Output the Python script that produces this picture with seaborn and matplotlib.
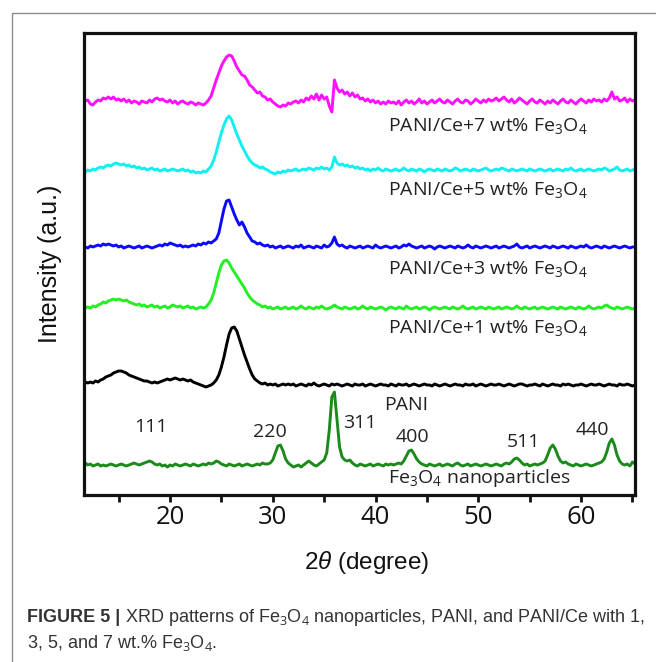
import numpy as np
import pandas as pd
import matplotlib
matplotlib.use("Agg")
import matplotlib.pyplot as plt
from matplotlib.ticker import MultipleLocator
from matplotlib.lines import Line2D
import seaborn as sns

# ---------------- data ----------------
THETA_START = 11.75   # first sample, degrees 2theta
THETA_STEP = 0.25     # sampling step, degrees

# intensities above each pattern's own baseline (a.u.)
fe3o4 = [
    2, 0, 1, -1, 0, 1, -1, 0, -1, 0, 1, 0, -1, 0, 1, 0, -1, 0, 1, 2,
    1, 0, 1, 2, 3, 4, 3, 1, 0, 1, -1, 0, -2, 0, -1, 1, 0, -1, 0, 1,
    0, -1, 1, 0, -1, 0, 1, 0, 2, 1, 2, 4, 3, 1, 0, -1, 1, 0, -1, 0,
    1, -1, 0, 1, 0, -1, 0, 1, 0, 2, 1, 1, 2, 5, 12, 19, 20, 14, 6, 2,
    0, -2, -1, 0, -2, 0, 2, 4, 2, 0, -1, 1, 3, 5, 12, 35, 68, 73, 45, 18,
    8, 5, 4, 5, 2, 0, -1, 1, 0, -1, 0, 1, -1, 0, 1, 0, -1, 1, 0, 1,
    0, 1, 2, 1, 4, 9, 14, 15, 11, 6, 3, 1, 0, -1, 1, 0, -1, 0, 1, -1,
    0, 1, 0, -1, 1, 2, 0, -1, 0, 1, -1, 0, 1, 0, -1, 0, 1, 0, -1, 0,
    1, 0, -1, 1, 2, 1, 3, 6, 7, 5, 2, 0, 1, -1, 0, 1, 0, 1, 2, 4,
    10, 17, 20, 16, 9, 4, 2, 3, 1, 0, -1, 1, 0, -1, 0, 1, 0, -1, 0, 1,
    2, 3, 6, 13, 22, 26, 20, 10, 4, 1, 0, 1, -1, 3, 1,
]
pani = [
    3, 2, 3, 2, 4, 3, 5, 6, 8, 9, 10, 12, 13, 14, 14, 13, 12, 10, 9, 8,
    7, 6, 5, 4, 4, 3, 2, 3, 2, 3, 4, 5, 6, 5, 6, 7, 6, 5, 6, 5,
    4, 5, 3, 2, 1, 0, -1, -2, -1, 0, 2, 5, 10, 18, 28, 40, 51, 57, 58, 54,
    46, 38, 30, 23, 16, 10, 6, 4, 2, 1, 2, 0, 1, 0, 1, -1, 0, 1, 0, 1,
    0, 1, -1, 0, 1, 0, -1, 1, 0, 2, 0, -1, 0, 1, 0, -1, 1, 0, 1, 0,
    -1, 0, 1, 0, -1, 1, 0, 0, 1, -1, 0, 1, 0, -1, 0, 1, 0, 0, -1, 1,
    0, -1, 1, 0, 0, 1, -1, 0, 1, 0, -1, 0, 1, 0, 0, -1, 1, 0, -1, 0,
    1, 0, -1, 0, 1, 0, 0, -1, 1, 0, 0, 1, -1, 0, 1, 0, -1, 0, 1, 0,
    0, 1, 0, -1, 0, 1, 0, -1, 0, 1, 1, 0, -1, 0, 0, 1, 0, -1, 1, 0,
    -1, 0, 1, 0, 0, -1, 1, 0, 1, 0, -1, 0, 0, 1, 0, -1, 0, 1, 0, 0,
    1, 0, -1, 0, 1, 0, 0, -1, 1, 0, 0, 1, 0, -1, 0,
]
ce1 = [
    0, 1, 0, 2, 1, 3, 4, 6, 5, 7, 8, 9, 8, 9, 8, 7, 8, 6, 5, 4,
    3, 4, 2, 3, 1, 2, 3, 1, 2, 0, 1, 2, 0, 1, 3, 2, 1, 2, 0, 1,
    2, 0, 1, -1, 0, 1, 0, 1, 4, 8, 15, 25, 35, 43, 47, 48, 45, 40, 36, 32,
    28, 24, 20, 15, 11, 8, 6, 4, 3, 1, 2, 0, 1, -1, 0, 1, -1, 0, 1, -1,
    0, 1, -1, 0, 2, 0, -1, 1, 0, -1, 1, 0, 2, 0, -1, 0, 1, 3, 1, 0,
    -1, 1, 0, -1, 0, 1, -1, 0, 2, 0, -1, 1, 0, -1, 0, 1, 0, -2, 0, 1,
    0, -1, 1, 0, -1, 2, 0, -1, 0, 1, -1, 0, 1, 0, -2, 0, 1, 0, -1, 0,
    1, 0, -1, 1, 0, -1, 0, 2, 0, -1, 0, 1, -1, 0, 1, 0, -1, 1, 0, -1,
    0, 1, -1, 0, 1, 0, -1, 0, 2, 0, -1, 1, 0, -1, 0, 1, -1, 0, 1, 0,
    -1, 0, 1, 0, -1, 1, 0, -1, 0, 1, 0, -1, 1, 0, -1, 0, 2, 0, -1, 0,
    1, 0, 2, 3, 1, 0, -1, 1, 0, -1, 0, 1, 0, -1, 0,
]
ce3 = [
    0, -1, 1, 0, 1, 2, 1, 3, 2, 3, 2, 1, 2, 0, 1, -1, 0, 1, 0, -1,
    0, 1, -1, 0, 1, 0, -1, 0, 1, 2, 1, 3, 2, 4, 3, 2, 1, 2, 0, 1,
    0, 1, 2, 1, 3, 2, 4, 3, 5, 4, 6, 8, 14, 26, 38, 46, 47, 40, 33, 27,
    22, 25, 20, 14, 10, 6, 5, 3, 4, 2, 1, 2, 0, 1, -1, 0, 1, -1, 0, 1,
    0, -1, 1, 0, 2, -1, 0, 1, 0, -1, 1, 0, -1, 2, 0, 1, 4, 10, 3, 1,
    2, 0, -1, 1, 0, -1, 0, 1, -1, 0, 1, 0, -1, 2, 0, -1, 0, 1, 0, -1,
    0, 1, -1, 0, 2, 1, 3, 1, 0, -1, 0, 1, -1, 0, 1, 0, -2, 0, 1, 0,
    -1, 0, 1, 0, -1, 1, 0, -1, 0, 2, 0, -1, 1, 0, -1, 0, 1, 0, -1, 0,
    1, -1, 0, 1, 0, -1, 0, 1, 3, 0, -1, 0, 1, -1, 0, 1, 0, -1, 0, 1,
    0, -1, 1, 0, -1, 0, 1, 0, -1, 1, 0, -1, 0, 1, 0, 2, 0, -1, 0, 1,
    0, -1, 1, 0, -1, 0, 1, 0, -1, 0, 1, 0, -1, 0, 0,
]
ce5 = [
    -2, 0, -1, 1, 0, 2, 3, 2, 4, 5, 4, 6, 7, 6, 5, 6, 4, 5, 3, 4,
    2, 3, 1, 2, 0, 1, 2, 0, 1, -1, 0, 1, -1, 0, 1, 0, -1, 0, 1, -1,
    0, -2, -1, -3, -2, -3, -1, -2, 1, 4, 10, 18, 28, 37, 45, 51, 54, 50, 43, 36,
    30, 24, 19, 14, 10, 7, 5, 4, 2, 3, 1, 0, -2, -3, -4, -2, -3, -1, -2, 0,
    -1, 0, 1, -1, 0, 1, 0, 2, 1, 0, 2, 1, 3, 1, 2, 0, 3, 13, 7, 5,
    6, 4, 5, 3, 4, 2, 3, 1, 2, 0, 1, -1, 1, 0, 2, 0, -1, 1, 0, -1,
    0, 1, -1, 0, 2, 0, -1, 1, 0, -1, 1, 0, -2, 0, 1, 0, -1, 1, 0, -1,
    1, 0, -1, 0, 2, 1, -1, 0, 1, 0, -1, 1, 0, -1, 0, 1, 2, 0, -1, 0,
    1, 0, 2, 1, 0, -1, 1, 0, -1, 0, 1, 0, -1, 1, 0, -1, 0, 1, 0, -1,
    0, 1, -1, 0, 1, 0, -1, 1, 0, 2, 0, -1, 0, 1, -1, 0, 1, 0, -1, 0,
    1, 0, 2, 1, -1, 0, 1, 3, 0, -1, 0, 1, -1, 0, 1,
]
ce7 = [
    1, 2, -2, -3, 0, 2, 1, 4, 3, 5, 3, 5, 2, 3, 1, 3, 0, 2, -1, 1,
    0, -2, 1, 0, -1, 2, 0, 3, 4, 2, 3, 1, 0, 2, -1, 1, -2, 0, 1, -1,
    -2, 0, -1, -3, -1, -2, -3, -1, 2, 6, 14, 22, 29, 36, 41, 45, 47, 46, 41, 35,
    31, 27, 26, 22, 17, 15, 12, 9, 10, 6, 5, 2, 3, 0, -2, -4, -5, -3, -4, -1,
    -2, 0, 1, -1, 2, 0, 4, 2, 6, 3, 8, 2, 7, 3, 5, -4, -10, 22, 14, 10,
    12, 8, 10, 6, 9, 5, 7, 3, 4, 1, 3, 0, 2, -1, 1, -2, 0, -2, 1, -1,
    0, -2, 1, -3, 0, 2, -1, 1, -2, 0, 3, -1, 1, -2, 0, 2, -1, 1, 3, 0,
    -1, 2, 0, -2, 1, 3, 0, -1, 2, 1, -2, 0, 3, 1, -1, 2, 0, 3, 1, 2,
    4, 1, 3, 5, 2, 0, 3, -1, 1, 4, 2, 0, -2, 1, 3, 0, -1, 2, 0, -2,
    1, -1, 2, 0, -2, 1, 3, 0, -1, 2, 0, -2, 1, 3, 1, -1, 2, 0, 3, 1,
    2, 0, 3, 1, 4, 10, 3, 5, 1, 2, 4, 0, 3, 1, 2,
]

sample_names = ["Fe3O4 nanoparticles", "PANI", "PANI/Ce+1 wt% Fe3O4",
                "PANI/Ce+3 wt% Fe3O4", "PANI/Ce+5 wt% Fe3O4", "PANI/Ce+7 wt% Fe3O4"]
sample_values = [fe3o4, pani, ce1, ce3, ce5, ce7]
sample_labels = ["Fe$_3$O$_4$ nanoparticles", "PANI", "PANI/Ce+1 wt% Fe$_3$O$_4$",
                 "PANI/Ce+3 wt% Fe$_3$O$_4$", "PANI/Ce+5 wt% Fe$_3$O$_4$",
                 "PANI/Ce+7 wt% Fe$_3$O$_4$"]
peak_labels = ["111", "220", "311", "400", "511", "440"]

# ---------------- layout / style ----------------
offsets = [30, 110, 187, 248, 325, 393]          # vertical stacking
colors = ["#1b8a1b", "#000000", "#22f022", "#0a0aff", "#10f0f0", "#ff10ff"]
label_pos = [(41.2, 17), (40.8, 90), (41.2, 167), (41.2, 226), (41.2, 305), (41.2, 369)]
peak_pos = [(18.1, 68), (29.7, 63), (38.5, 72), (43.6, 58), (54.4, 53), (61.1, 65)]

sns.set_style("ticks")
plt.rcParams["font.family"] = ["Open Sans", "DejaVu Sans"]
plt.rcParams["mathtext.fontset"] = "custom"
plt.rcParams["mathtext.rm"] = "Open Sans"
plt.rcParams["mathtext.it"] = "Liberation Sans:italic"
plt.rcParams["mathtext.bf"] = "Liberation Sans:bold"

frames = []
for name, vals, off in zip(sample_names, sample_values, offsets):
    theta = THETA_START + THETA_STEP * np.arange(len(vals))
    frames.append(pd.DataFrame({"theta": theta,
                                "intensity": np.asarray(vals, float) + off,
                                "sample": name}))
df = pd.concat(frames, ignore_index=True)

W, H = 656, 662
fig = plt.figure(figsize=(W / 100, H / 100), dpi=100)
ax = fig.add_axes([84 / W, 1 - 495 / H, (635 - 84) / W, (495 - 33) / H])

sns.lineplot(data=df, x="theta", y="intensity", hue="sample",
             palette=dict(zip(sample_names, colors)), legend=False,
             estimator=None, sort=False, linewidth=2.1, ax=ax)

ax.set_xlim(11.63, 65.25)
ax.set_ylim(0, 462)
ax.set_yticks([])
ax.xaxis.set_major_locator(MultipleLocator(10))
ax.xaxis.set_minor_locator(MultipleLocator(5))
ax.tick_params(axis="x", which="both", direction="out", length=5, width=2,
               colors="#111111", labelsize=18.5, pad=2)
for sp in ax.spines.values():
    sp.set_linewidth(2.3)
    sp.set_color("#111111")

ax.set_xlabel(r"2$\theta$ (degree)", fontsize=17.5, family="Liberation Sans",
              color="#111111", va="center")
ax.xaxis.set_label_coords(0.513, (495 - 562) / 462)
ax.set_ylabel("Intensity (a.u.)", fontsize=18, family="Liberation Sans",
              color="#111111", va="center")
ax.yaxis.set_label_coords((50 - 84) / 551, 0.5)

for txt, (x, y) in zip(sample_labels, label_pos):
    ax.text(x, y, txt, fontsize=14, color="#222222", ha="left", va="center")
for txt, (x, y) in zip(peak_labels, peak_pos):
    ax.text(x, y, txt, fontsize=14, color="#222222", ha="center", va="center")

# outer frame of the figure panel
fig.add_artist(Line2D([12 / W, 12 / W, 1.0], [0.0, 1 - 13 / H, 1 - 13 / H],
                      transform=fig.transFigure, color="#8c8c8c", lw=1.0))

# caption
cap_kw = dict(fontsize=13, family="Liberation Sans", color="#333333", va="center")
t1 = fig.text(27 / W, 1 - 618 / H, "FIGURE 5 |", fontweight="bold", **cap_kw)
ax.annotate(" XRD patterns of Fe$_3$O$_4$ nanoparticles, PANI, and PANI/Ce with 1,",
            xy=(1, 0.5), xycoords=t1, xytext=(0, 0), textcoords="offset points",
            ha="left", **cap_kw)
fig.text(27 / W, 1 - 643 / H, "3, 5, and 7 wt.% Fe$_3$O$_4$.", **cap_kw)

fig.savefig("out.png", dpi=100)
